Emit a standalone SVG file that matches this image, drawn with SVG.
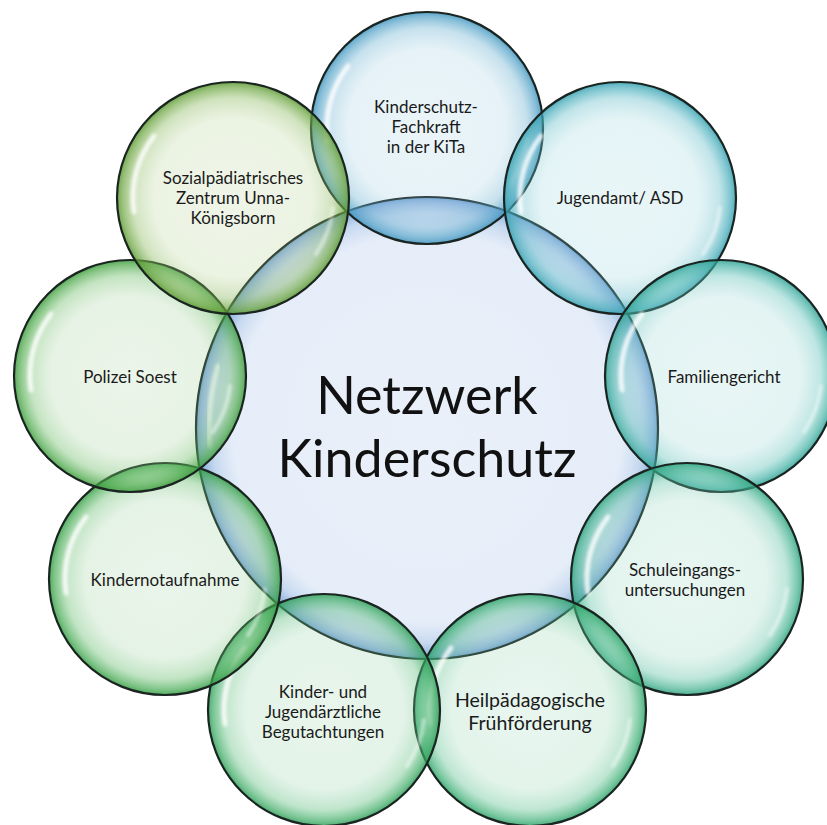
<svg xmlns="http://www.w3.org/2000/svg" width="827" height="825" viewBox="0 0 827 825">
  <defs>
    <style>
      .rim { stroke: #1a2420; stroke-width: 2.2; }
      .gloss { fill: none; stroke: #ffffff; stroke-width: 5; stroke-linecap: round; opacity: 0.8; filter: url(#soft); }
      .gloss2 { fill: none; stroke: #ffffff; stroke-width: 4; stroke-linecap: round; opacity: 0.45; filter: url(#soft); }
      .lbl { font-family: Lato, "Liberation Sans", sans-serif; font-size: 17px; fill: #1a1a1a; text-anchor: middle; }
      .big { font-size: 19.5px; }
      .title { font-family: Lato, "Liberation Sans", sans-serif; font-size: 52px; fill: #111111; text-anchor: middle; }
    </style>
    <filter id="soft" x="-20%" y="-20%" width="140%" height="140%">
      <feGaussianBlur stdDeviation="1.6"/>
    </filter>
    <!-- bubble fills: pale centre, stronger tint toward the rim -->
    <radialGradient id="gHub">
      <stop offset="0" stop-color="#9dbbe6" stop-opacity="0.22"/>
      <stop offset="0.84" stop-color="#9dbbe6" stop-opacity="0.26"/>
      <stop offset="0.93" stop-color="#7fa9dc" stop-opacity="0.44"/>
      <stop offset="0.985" stop-color="#5f93cf" stop-opacity="0.7"/>
      <stop offset="1" stop-color="#4e86c6" stop-opacity="0.85"/>
    </radialGradient>
    <radialGradient id="g1">
      <stop offset="0" stop-color="#8cc4dc" stop-opacity="0.18"/>
      <stop offset="0.68" stop-color="#8cc4dc" stop-opacity="0.22"/>
      <stop offset="0.86" stop-color="#6fb3d2" stop-opacity="0.4"/>
      <stop offset="0.96" stop-color="#4e9fc6" stop-opacity="0.7"/>
      <stop offset="1" stop-color="#3f93bd" stop-opacity="0.86"/>
    </radialGradient>
    <radialGradient id="g2">
      <stop offset="0" stop-color="#86ccd6" stop-opacity="0.18"/>
      <stop offset="0.68" stop-color="#86ccd6" stop-opacity="0.22"/>
      <stop offset="0.86" stop-color="#62bcc8" stop-opacity="0.4"/>
      <stop offset="0.96" stop-color="#40a9b8" stop-opacity="0.7"/>
      <stop offset="1" stop-color="#339fb0" stop-opacity="0.86"/>
    </radialGradient>
    <radialGradient id="g3">
      <stop offset="0" stop-color="#80ccc8" stop-opacity="0.18"/>
      <stop offset="0.68" stop-color="#80ccc8" stop-opacity="0.22"/>
      <stop offset="0.86" stop-color="#5cc0b8" stop-opacity="0.4"/>
      <stop offset="0.96" stop-color="#3aac9f" stop-opacity="0.7"/>
      <stop offset="1" stop-color="#2fa294" stop-opacity="0.86"/>
    </radialGradient>
    <radialGradient id="g4">
      <stop offset="0" stop-color="#80ccb4" stop-opacity="0.18"/>
      <stop offset="0.68" stop-color="#80ccb4" stop-opacity="0.22"/>
      <stop offset="0.86" stop-color="#5cc0a2" stop-opacity="0.4"/>
      <stop offset="0.96" stop-color="#38ac88" stop-opacity="0.7"/>
      <stop offset="1" stop-color="#2da27e" stop-opacity="0.86"/>
    </radialGradient>
    <radialGradient id="g5">
      <stop offset="0" stop-color="#80cca4" stop-opacity="0.18"/>
      <stop offset="0.68" stop-color="#80cca4" stop-opacity="0.22"/>
      <stop offset="0.86" stop-color="#5cc08e" stop-opacity="0.4"/>
      <stop offset="0.96" stop-color="#38ac72" stop-opacity="0.7"/>
      <stop offset="1" stop-color="#2da268" stop-opacity="0.86"/>
    </radialGradient>
    <radialGradient id="g6">
      <stop offset="0" stop-color="#82ca98" stop-opacity="0.18"/>
      <stop offset="0.68" stop-color="#82ca98" stop-opacity="0.22"/>
      <stop offset="0.86" stop-color="#5ebe7e" stop-opacity="0.4"/>
      <stop offset="0.96" stop-color="#3aa962" stop-opacity="0.7"/>
      <stop offset="1" stop-color="#2f9f58" stop-opacity="0.86"/>
    </radialGradient>
    <radialGradient id="g7">
      <stop offset="0" stop-color="#88c88a" stop-opacity="0.18"/>
      <stop offset="0.68" stop-color="#88c88a" stop-opacity="0.22"/>
      <stop offset="0.86" stop-color="#64bc6c" stop-opacity="0.4"/>
      <stop offset="0.96" stop-color="#40a74e" stop-opacity="0.7"/>
      <stop offset="1" stop-color="#349d44" stop-opacity="0.86"/>
    </radialGradient>
    <radialGradient id="g8">
      <stop offset="0" stop-color="#8fc886" stop-opacity="0.18"/>
      <stop offset="0.68" stop-color="#8fc886" stop-opacity="0.22"/>
      <stop offset="0.86" stop-color="#6cbc66" stop-opacity="0.4"/>
      <stop offset="0.96" stop-color="#48a646" stop-opacity="0.7"/>
      <stop offset="1" stop-color="#3c9c3c" stop-opacity="0.86"/>
    </radialGradient>
    <radialGradient id="g9">
      <stop offset="0" stop-color="#a6c87e" stop-opacity="0.18"/>
      <stop offset="0.68" stop-color="#a6c87e" stop-opacity="0.22"/>
      <stop offset="0.86" stop-color="#88b85c" stop-opacity="0.4"/>
      <stop offset="0.96" stop-color="#68a33c" stop-opacity="0.7"/>
      <stop offset="1" stop-color="#5a9932" stop-opacity="0.86"/>
    </radialGradient>
  </defs>

  <rect width="827" height="825" fill="#ffffff"/>

  <!-- central hub -->
  <g id="hub">
    <circle cx="427" cy="428" r="231" fill="url(#gHub)" class="rim"/>
    <path class="gloss" d="M 210 446 A 218 218 0 0 1 218 366"/>
    <text class="title" x="427" y="414">Netzwerk</text>
    <text class="title" x="427" y="477">Kinderschutz</text>
  </g>

  <!-- satellites, clockwise from the top -->
  <g id="kita">
    <circle cx="427" cy="128" r="116" fill="url(#g1)" class="rim"/>
    <path class="gloss" d="M 328 142 A 100 100 0 0 1 348 66"/>
    <path class="gloss2" d="M 527 138 A 100 100 0 0 1 510 184"/>
    <text class="lbl" x="426" y="113">Kinderschutz-</text>
    <text class="lbl" x="426" y="133">Fachkraft</text>
    <text class="lbl" x="426" y="153">in der KiTa</text>
  </g>

  <g id="jugendamt">
    <circle cx="620" cy="198" r="116" fill="url(#g2)" class="rim"/>
    <path class="gloss" d="M 521 212 A 100 100 0 0 1 541 136"/>
    <path class="gloss2" d="M 720 208 A 100 100 0 0 1 703 254"/>
    <text class="lbl" x="620" y="204">Jugendamt/ ASD</text>
  </g>

  <g id="familiengericht">
    <circle cx="721" cy="376" r="116" fill="url(#g3)" class="rim"/>
    <path class="gloss" d="M 622 390 A 100 100 0 0 1 642 314"/>
    <path class="gloss2" d="M 821 386 A 100 100 0 0 1 804 432"/>
    <text class="lbl" x="724" y="383">Familiengericht</text>
  </g>

  <g id="schuleingang">
    <circle cx="687" cy="579" r="116" fill="url(#g4)" class="rim"/>
    <path class="gloss" d="M 588 593 A 100 100 0 0 1 608 517"/>
    <path class="gloss2" d="M 787 589 A 100 100 0 0 1 770 635"/>
    <text class="lbl" x="685" y="576">Schuleingangs-</text>
    <text class="lbl" x="685" y="596">untersuchungen</text>
  </g>

  <g id="fruehfoerderung">
    <circle cx="530" cy="710" r="116" fill="url(#g5)" class="rim"/>
    <path class="gloss" d="M 431 724 A 100 100 0 0 1 451 648"/>
    <path class="gloss2" d="M 630 720 A 100 100 0 0 1 613 766"/>
    <text class="lbl big" x="530" y="707">Heilpädagogische</text>
    <text class="lbl big" x="530" y="730">Frühförderung</text>
  </g>

  <g id="begutachtung">
    <circle cx="324" cy="710" r="116" fill="url(#g6)" class="rim"/>
    <path class="gloss" d="M 225 724 A 100 100 0 0 1 245 648"/>
    <path class="gloss2" d="M 424 720 A 100 100 0 0 1 407 766"/>
    <text class="lbl" x="323" y="698">Kinder- und</text>
    <text class="lbl" x="323" y="718">Jugendärztliche</text>
    <text class="lbl" x="323" y="738">Begutachtungen</text>
  </g>

  <g id="notaufnahme">
    <circle cx="165" cy="579" r="116" fill="url(#g7)" class="rim"/>
    <path class="gloss" d="M 66 593 A 100 100 0 0 1 86 517"/>
    <path class="gloss2" d="M 265 589 A 100 100 0 0 1 248 635"/>
    <text class="lbl" x="165" y="586">Kindernotaufnahme</text>
  </g>

  <g id="polizei">
    <circle cx="130" cy="376" r="116" fill="url(#g8)" class="rim"/>
    <path class="gloss" d="M 31 390 A 100 100 0 0 1 51 314"/>
    <path class="gloss2" d="M 230 386 A 100 100 0 0 1 213 432"/>
    <text class="lbl" x="130" y="383">Polizei Soest</text>
  </g>

  <g id="spz">
    <circle cx="233" cy="198" r="116" fill="url(#g9)" class="rim"/>
    <path class="gloss" d="M 134 212 A 100 100 0 0 1 154 136"/>
    <path class="gloss2" d="M 333 208 A 100 100 0 0 1 316 254"/>
    <text class="lbl" x="233" y="184">Sozialpädiatrisches</text>
    <text class="lbl" x="233" y="204">Zentrum Unna-</text>
    <text class="lbl" x="233" y="224">Königsborn</text>
  </g>
</svg>
